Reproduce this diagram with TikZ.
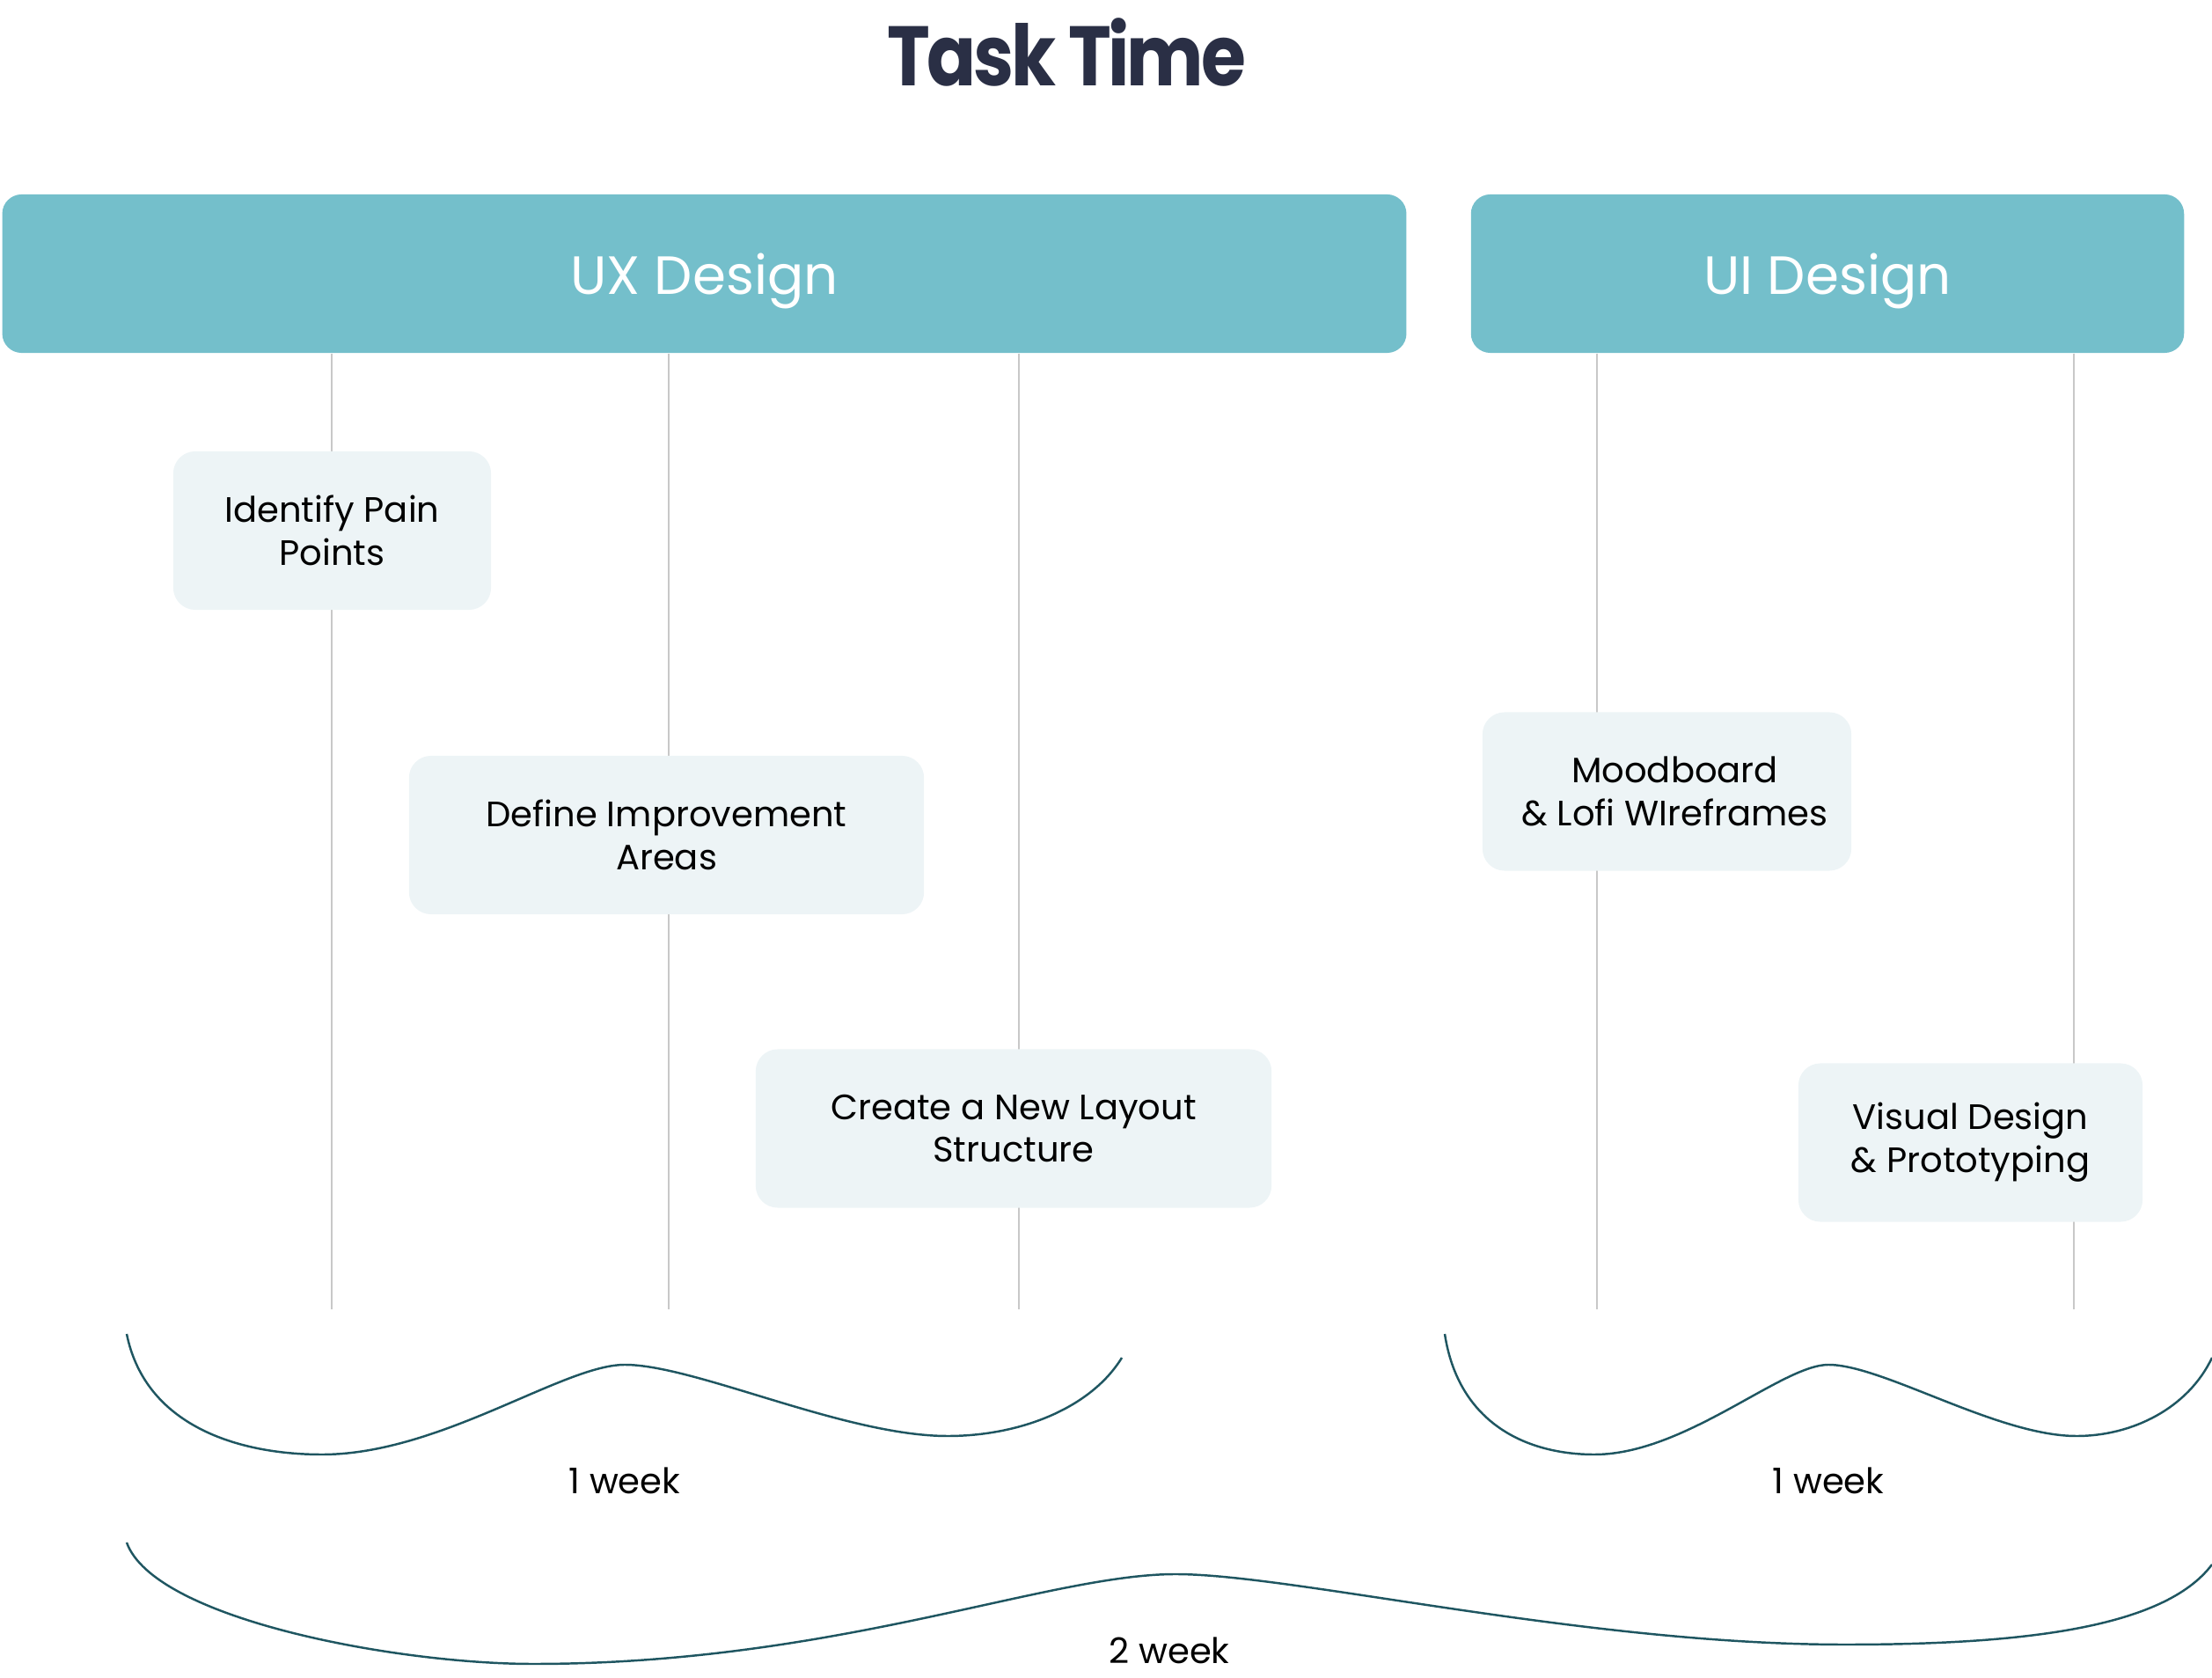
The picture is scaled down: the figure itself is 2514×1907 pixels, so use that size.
\documentclass[tikz,border=0pt]{standalone}
\usepackage{fontspec}
\setmainfont{Poppins}
\usepackage{graphicx}
\usepackage{xcolor}
\usepackage{tikz}
\usetikzlibrary{positioning}

\definecolor{barteal}{HTML}{74BFCB}
\definecolor{taskbg}{HTML}{EDF4F6}
\definecolor{linegray}{HTML}{C8C8C8}
\definecolor{bracecol}{HTML}{1F5661}
\definecolor{titlenavy}{HTML}{2A2F45}

\begin{document}
\begin{tikzpicture}[x=0.01cm, y=-0.01cm,
    bar/.style={fill=barteal, rounded corners=0.22cm, minimum height=1.8cm, text depth=0pt, text=white, font=\fontsize{17.4}{21}\selectfont},
    task/.style={fill=taskbg, rounded corners=0.25cm, minimum height=1.8cm, align=center, font=\fontsize{11.4}{13.9}\selectfont},
    vline/.style={draw=linegray, line width=0.6pt},
    brace/.style={draw=bracecol, line width=0.7pt},
    week/.style={anchor=base, font=\fontsize{11.4}{13.9}\selectfont}]
    \useasboundingbox (0,0) rectangle (2514,1907);

    % 1. Tiêu đề
    \node[anchor=base, text=titlenavy, font=\fontsize{27.3}{32}\bfseries] (title) at (1212,98)
        {\scalebox{0.86}[1]{\addfontfeature{LetterSpace=-4}Task Time}};

    % 2. Hai thanh giai đoạn
    \node[bar, minimum width=15.95cm] (ux) at (800.5,311) {UX Design};
    \node[bar, minimum width=8.10cm] (ui) at (2077,311) {UI Design};

    % 3. Đường dọc
    \coordinate (e1) at (377,1488);
    \coordinate (e2) at (760,1488);
    \coordinate (e3) at (1158,1488);
    \coordinate (e4) at (1815,1488);
    \coordinate (e5) at (2357,1488);
    \draw[vline] (ux.south -| e1) -- (e1);
    \draw[vline] (ux.south -| e2) -- (e2);
    \draw[vline] (ux.south -| e3) -- (e3);
    \draw[vline] (ui.south -| e4) -- (e4);
    \draw[vline] (ui.south -| e5) -- (e5);

    % 4. Các công việc
    \node[task, minimum width=3.61cm] (pain) at (377.5,603) {Identify Pain\\Points};
    \node[task, minimum width=5.85cm] (areas) at (757.5,949) {Define Improvement\\Areas};
    \node[task, minimum width=5.86cm] (layout) at (1152,1282.5) {Create a New Layout\\Structure};
    \node[task, minimum width=4.19cm] (mood) at (1894.5,899.5) {\hspace*{0.18cm}Moodboard\\\hspace*{0.18cm}\& Lofi WIreframes};
    \node[task, minimum width=3.91cm] (visual) at (2239.5,1298.5) {Visual Design\\\& Prototyping};

    % 5. Ngoặc thời gian
    \draw[brace] (144,1516) .. controls (165,1620) and (270,1653) .. (366,1653)
        .. controls (500,1653) and (640,1551) .. (710,1551)
        .. controls (790,1551) and (960,1632) .. (1077,1632)
        .. controls (1160,1632) and (1240,1600) .. (1275,1543);
    \draw[brace] (1642,1516) .. controls (1658,1620) and (1738,1653) .. (1812,1653)
        .. controls (1915,1653) and (2025,1551) .. (2078,1551)
        .. controls (2140,1551) and (2270,1632) .. (2360,1632)
        .. controls (2424,1632) and (2487,1600) .. (2514,1543);
    \draw[brace] (144,1753) .. controls (175,1840) and (450,1891) .. (606,1891)
        .. controls (950,1891) and (1190,1789) .. (1336,1789)
        .. controls (1470,1789) and (1800,1869) .. (2097,1869)
        .. controls (2300,1869) and (2460,1850) .. (2514,1778);
    \node[week] (weekA) at (710,1697) {1 week};
    \node[week] (weekB) at (2078,1697) {1 week};
    \node[week] (weekC) at (1329,1890) {2 week};
\end{tikzpicture}
\end{document}
